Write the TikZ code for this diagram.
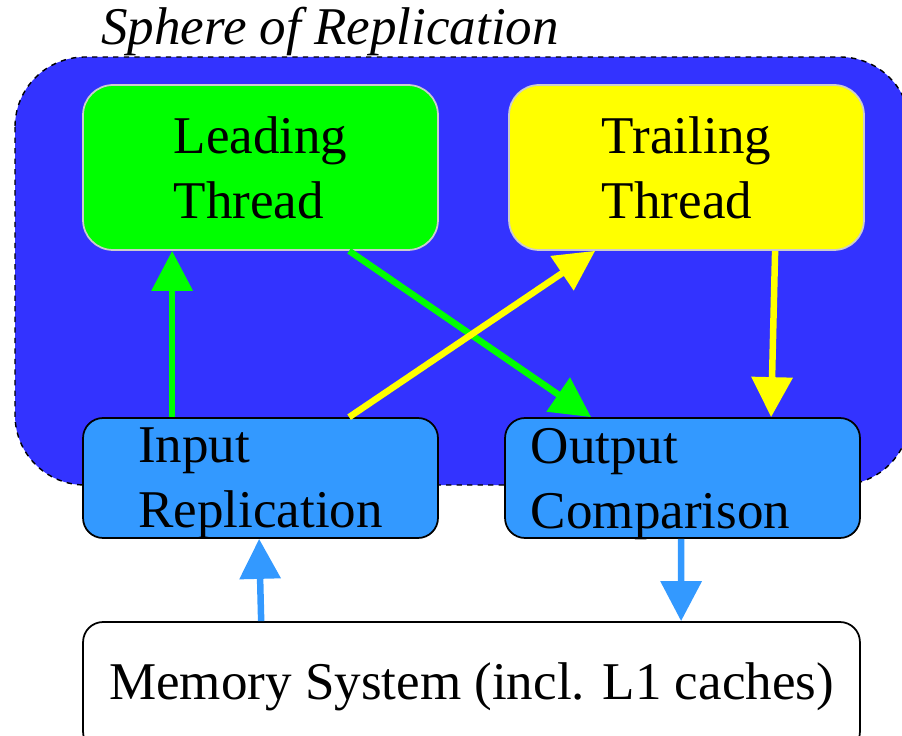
\documentclass[tikz,border=0pt]{standalone}
\usepackage{fontspec}
\setmainfont{Liberation Serif}
\usetikzlibrary{arrows.meta}
\definecolor{sphereblue}{HTML}{3333FF}
\definecolor{leadgreen}{HTML}{00FF00}
\definecolor{trailyellow}{HTML}{FFFF00}
\definecolor{unitblue}{HTML}{3399FF}
\definecolor{threadedge}{HTML}{CCCCCC}
\begin{document}
\begin{tikzpicture}[x=0.02cm,y=-0.02cm,
  every node/.style={font=\fontsize{30.2}{37}\selectfont},
  thread/.style={draw=threadedge,line width=1pt,rounded corners=0.6cm,
    minimum width=7.1cm,minimum height=3.3cm,align=left},
  unit/.style={draw=black,line width=1pt,fill=unitblue,rounded corners=0.4cm,
    minimum width=7.1cm,minimum height=2.4cm,align=left,text depth=0pt},
  flow/.style={line width=0.13cm,-{Triangle[width=0.8cm,length=0.8cm]}}]
  \useasboundingbox (0,0) rectangle (902,736);
  \draw[fill=sphereblue,dashed,line width=0.8pt,rounded corners=1.4cm] (15,57) rectangle (910,485);
  \node[anchor=base west,font=\fontsize{30.2}{37}\selectfont\itshape] (title) at (95,45) {Sphere of Replication};
  \node[thread,fill=leadgreen] (lead) at (260.5,167.5) {Leading\\Thread};
  \node[thread,fill=trailyellow] (trail) at (686.5,167.5) {Trailing\\Thread};
  \node[unit] (input) at (260.5,478) {Input\\Replication};
  \node[unit] (output) at (682.5,478) {Output\\Comparison\hspace*{0.88cm}};
  \node[draw=black,line width=1pt,fill=white,rounded corners=0.4cm,
    minimum width=15.54cm,minimum height=2.6cm] (mem) at (471.5,687) {Memory System (incl. L1 caches)};
  \draw[flow,leadgreen] ([xshift=1.8cm]input.north west) -- ([xshift=1.8cm]lead.south west);
  \draw[flow,leadgreen] ([xshift=5.34cm]lead.south west) -- ([xshift=1.74cm]output.north west);
  \draw[flow,trailyellow] ([xshift=5.34cm]input.north west) -- ([xshift=1.74cm]trail.south west);
  \draw[flow,trailyellow] ([xshift=5.34cm]trail.south west) -- ([xshift=5.34cm]output.north west);
  \draw[flow,unitblue] ([xshift=3.58cm]mem.north west) -- ([xshift=3.54cm]input.south west);
  \draw[flow,unitblue] ([xshift=3.54cm]output.south west) -- ([xshift=11.98cm]mem.north west);
\end{tikzpicture}
\end{document}
